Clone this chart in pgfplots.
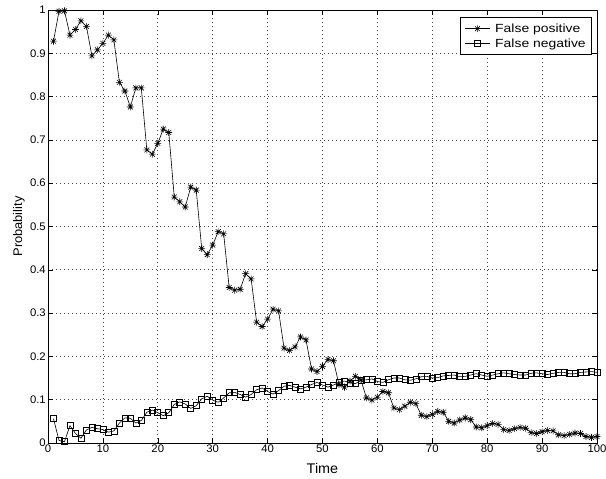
\documentclass[border=0pt]{standalone}
\usepackage{fontspec}
\setmainfont{Liberation Sans}[FakeStretch=1.03]
\newfontfamily\legfont{Liberation Sans}[FakeStretch=1.18]
\usepackage{pgfplots}
\pgfplotsset{compat=1.18}
\pgfdeclareplotmark{mstar}{%
 \pgfpathmoveto{\pgfqpoint{0pt}{\pgfplotmarksize}}\pgfpathlineto{\pgfqpoint{0pt}{-\pgfplotmarksize}}%
 \pgfpathmoveto{\pgfqpoint{\pgfplotmarksize}{0pt}}\pgfpathlineto{\pgfqpoint{-\pgfplotmarksize}{0pt}}%
 \pgfpathmoveto{\pgfqpoint{0.707\pgfplotmarksize}{0.707\pgfplotmarksize}}\pgfpathlineto{\pgfqpoint{-0.707\pgfplotmarksize}{-0.707\pgfplotmarksize}}%
 \pgfpathmoveto{\pgfqpoint{0.707\pgfplotmarksize}{-0.707\pgfplotmarksize}}\pgfpathlineto{\pgfqpoint{-0.707\pgfplotmarksize}{0.707\pgfplotmarksize}}%
 \pgfusepathqstroke}
\pgfplotstableread{
x y
1 0.928
2 0.997
3 0.998
4 0.942
5 0.955
6 0.975
7 0.962
8 0.894
9 0.908
10 0.923
11 0.942
12 0.931
13 0.833
14 0.813
15 0.776
16 0.820
17 0.820
18 0.677
19 0.667
20 0.692
21 0.725
22 0.717
23 0.568
24 0.557
25 0.545
26 0.591
27 0.584
28 0.449
29 0.435
30 0.457
31 0.488
32 0.483
33 0.359
34 0.353
35 0.355
36 0.391
37 0.379
38 0.279
39 0.269
40 0.286
41 0.309
42 0.305
43 0.219
44 0.214
45 0.222
46 0.245
47 0.238
48 0.171
49 0.165
50 0.177
51 0.193
52 0.190
53 0.135
54 0.129
55 0.143
56 0.154
57 0.146
58 0.104
59 0.099
60 0.106
61 0.119
62 0.116
63 0.081
64 0.077
65 0.085
66 0.094
67 0.091
68 0.064
69 0.061
70 0.066
71 0.073
72 0.071
73 0.050
74 0.046
75 0.053
76 0.058
77 0.054
78 0.037
79 0.035
80 0.040
81 0.045
82 0.043
83 0.031
84 0.029
85 0.033
86 0.036
87 0.034
88 0.024
89 0.022
90 0.026
91 0.029
92 0.028
93 0.019
94 0.017
95 0.020
96 0.023
97 0.022
98 0.015
99 0.013
100 0.015
}\fp
\pgfplotstableread{
x y
1 0.056
2 0.006
3 0.003
4 0.040
5 0.022
6 0.011
7 0.030
8 0.036
9 0.033
10 0.031
11 0.025
12 0.028
13 0.046
14 0.058
15 0.057
16 0.046
17 0.052
18 0.071
19 0.076
20 0.070
21 0.063
22 0.070
23 0.089
24 0.095
25 0.090
26 0.080
27 0.086
28 0.102
29 0.108
30 0.099
31 0.094
32 0.104
33 0.116
34 0.117
35 0.112
36 0.106
37 0.112
38 0.123
39 0.127
40 0.119
41 0.113
42 0.121
43 0.131
44 0.133
45 0.129
46 0.125
47 0.129
48 0.135
49 0.140
50 0.134
51 0.129
52 0.134
53 0.140
54 0.143
55 0.139
56 0.137
57 0.145
58 0.146
59 0.148
60 0.142
61 0.140
62 0.146
63 0.150
64 0.150
65 0.146
66 0.145
67 0.148
68 0.153
69 0.154
70 0.150
71 0.151
72 0.155
73 0.156
74 0.157
75 0.153
76 0.154
77 0.157
78 0.160
79 0.157
80 0.154
81 0.157
82 0.160
83 0.162
84 0.160
85 0.158
86 0.157
87 0.157
88 0.161
89 0.162
90 0.160
91 0.158
92 0.161
93 0.163
94 0.163
95 0.160
96 0.160
97 0.163
98 0.164
99 0.165
100 0.163
}\fn
\begin{document}
\begin{tikzpicture}
\useasboundingbox (-48pt,-36pt) rectangle (558pt,443pt);
\begin{axis}[
  scale only axis, width=549pt, height=433pt,
  xmin=0, xmax=100, ymin=0, ymax=1,
  xtick={0,10,...,100}, ytick={0,0.1,...,1},
  /pgf/number format/assume math mode=true,
  ticklabel style={font=\fontsize{11}{13}\selectfont},
  xticklabel style={inner sep=2pt},
  yticklabel style={inner sep=2pt},
  xlabel={Time}, ylabel={Probability},
  xlabel style={font=\fontsize{14}{16}\selectfont, at={(axis description cs:0.5,0)}, anchor=base, yshift=-31pt},
  ylabel style={font=\fontsize{12.5}{15}\selectfont, at={(axis description cs:0,0.5)}, anchor=center, yshift=29pt},
  tick align=inside, major tick length=5pt,
  grid=major, major grid style={black!75, dash pattern=on 0.8pt off 3.2pt, line width=0.6pt},
  axis line style={line width=0.6pt}, tick style={black, line width=0.5pt},
  clip=false,
  legend style={at={(axis cs:99.1,0.983)}, anchor=north east, font=\legfont\fontsize{11.8}{13}\selectfont, draw=black, line width=0.6pt, inner xsep=4pt, inner ysep=4pt, row sep=1pt, cells={anchor=west}},
  legend image code/.code={\draw[#1, mark repeat=2, mark phase=2] plot coordinates {(0pt,0pt)(12.5pt,0pt)(25pt,0pt)};},
]
\addplot[black, line width=0.6pt, mark=mstar, mark size=3.4pt] table {\fp};
\addlegendentry{\hspace*{3pt}False positive\hspace{14pt}}
\addplot[black, line width=0.6pt, mark=square, mark size=3pt] table {\fn};
\addlegendentry{\hspace*{3pt}False negative\hspace{14pt}}
\end{axis}
\end{tikzpicture}
\end{document}
